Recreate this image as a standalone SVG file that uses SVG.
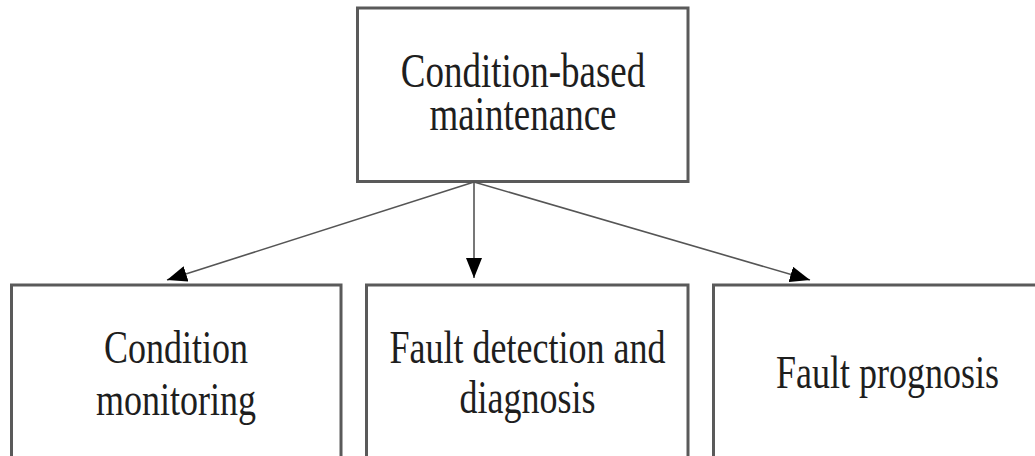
<svg xmlns="http://www.w3.org/2000/svg" width="1035" height="456" viewBox="0 0 1035 456">
  <style>
    .box { fill: #ffffff; stroke: #5a5a5a; stroke-width: 3; }
    .lbl { font-family: "Liberation Serif", "Times New Roman", serif; font-size: 36px; fill: #1e1e1e; text-anchor: middle; }
    .conn { stroke: #555555; stroke-width: 1.6; fill: none; }
  </style>
  <defs>
    <marker id="arrow" markerUnits="userSpaceOnUse" markerWidth="20" markerHeight="16" refX="20" refY="8" orient="auto">
      <path d="M0,0 L20,8 L0,16 z" fill="#000000"/>
    </marker>
  </defs>
  <rect x="0" y="0" width="1035" height="456" fill="#ffffff"/>

  <g id="node-cbm">
    <rect class="box" x="357.5" y="8" width="330.5" height="173.5"/>
    <text class="lbl" transform="matrix(1 0 0 1.3 523 87)" style="font-size:37px">Condition-based</text>
    <text class="lbl" transform="matrix(1 0 0 1.3 523 130)" style="font-size:37px">maintenance</text>
  </g>

  <g id="node-cm">
    <rect class="box" x="11.5" y="285" width="329.5" height="200"/>
    <text class="lbl" transform="matrix(1 0 0 1.3 176 363)">Condition</text>
    <text class="lbl" transform="matrix(1 0 0 1.3 176 415)">monitoring</text>
  </g>

  <g id="node-fdd">
    <rect class="box" x="366.5" y="285" width="321.5" height="200"/>
    <text class="lbl" transform="matrix(1 0 0 1.3 527.5 363)">Fault detection and</text>
    <text class="lbl" transform="matrix(1 0 0 1.3 527.5 413)">diagnosis</text>
  </g>

  <g id="node-fp">
    <rect class="box" x="713.5" y="285" width="350" height="200"/>
    <text class="lbl" transform="matrix(1 0 0 1.3 887.5 388)">Fault prognosis</text>
  </g>

  <g id="connectors">
    <line class="conn" x1="474" y1="182" x2="167" y2="280" marker-end="url(#arrow)"/>
    <line class="conn" x1="474" y1="182" x2="474" y2="278" marker-end="url(#arrow)"/>
    <line class="conn" x1="474" y1="182" x2="810" y2="280" marker-end="url(#arrow)"/>
  </g>
</svg>
